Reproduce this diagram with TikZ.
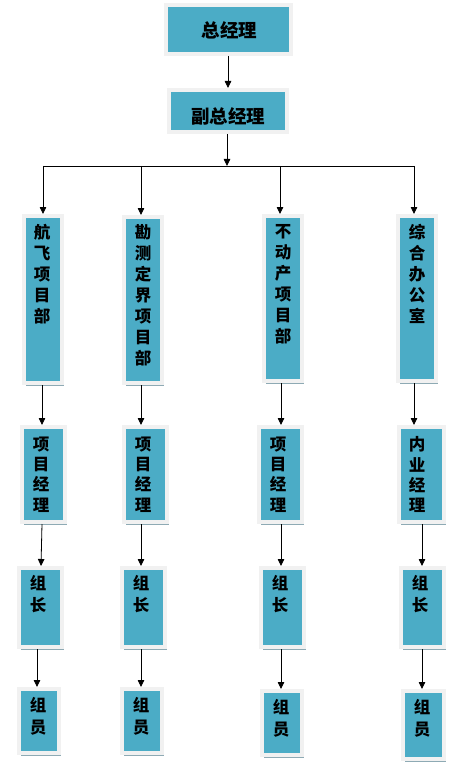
\documentclass[tikz,border=0pt]{standalone}
\usepackage{fontspec}
\newfontfamily\cjk{Noto Sans CJK SC}
\usetikzlibrary{arrows.meta,shadows}
\definecolor{boxteal}{HTML}{4BACC6}
\definecolor{boxrim}{HTML}{F1F1F1}
\definecolor{boxshadow}{HTML}{8EAAB4}
\tikzset{
  bx/.style={fill=boxteal, draw=boxrim, line width=4pt, inner sep=0pt, outer sep=2pt,
    drop shadow={shadow xshift=1.5pt, shadow yshift=-2.5pt, fill=boxshadow, opacity=1}},
  txt/.style={font=\cjk\bfseries\fontsize{16.5}{21}\selectfont, align=center, inner sep=0pt, anchor=north},
  bigtxt/.style={font=\cjk\bfseries\fontsize{18.5}{21}\selectfont, inner sep=0pt, anchor=center},
  arr/.style={draw=black, line width=0.8pt, -{Triangle[length=7pt,width=6.5pt]}},
  ln/.style={draw=black, line width=0.8pt}
}
\newcommand\bx[5]{\node[bx, minimum width=#4pt-4pt, minimum height=#5pt-4pt] (#1) at (#2,#3) {};}
\begin{document}
\begin{tikzpicture}[x=1pt,y=-1pt]
\useasboundingbox (0,0) rectangle (462,770);
% top
\bx{top}{228.5}{29.5}{129}{53}
\bx{vp}{228}{111}{122}{46}
\node[bigtxt] (ttop) at (229.5,30.5) {总经理};
\node[bigtxt] (tvp) at (228,116) {副总经理};
% level 2
\bx{la}{43}{299.5}{42}{171}
\bx{lb}{143}{300}{42}{170}
\bx{lc}{283}{298.5}{42}{169}
\bx{ld}{417}{298.5}{42}{169}
% level 3
\bx{ma}{43.5}{474.5}{47}{99}
\bx{mb}{145.5}{474.5}{47}{99}
\bx{mc}{280.5}{474.5}{47}{99}
\bx{md}{421.5}{474.5}{49}{99}
% level 4
\bx{na}{40.5}{607.5}{47}{83}
\bx{nb}{143.5}{607.5}{47}{83}
\bx{nc}{282.5}{607.5}{47}{83}
\bx{nd}{422.5}{607.5}{47}{83}
% level 5
\bx{oa}{39}{721}{44}{68}
\bx{ob}{142}{721}{44}{68}
\bx{oc}{282}{723}{44}{68}
\bx{od}{423.5}{725}{45}{72}
% texts
\node[txt] (tla) at (42,224.5) {航\\飞\\项\\目\\部};
\node[txt] (tlb) at (143,224.5) {勘\\测\\定\\界\\项\\目\\部};
\node[txt] (tlc) at (283,224.5) {不\\动\\产\\项\\目\\部};
\node[txt] (tld) at (417,224.5) {综\\合\\办\\公\\室};
\begin{scope}[txt/.append style={font=\cjk\bfseries\fontsize{16.5}{20.3}\selectfont}]
\node[txt] (tma) at (41,436.5) {项\\目\\经\\理};
\node[txt] (tmb) at (143,436.5) {项\\目\\经\\理};
\node[txt] (tmc) at (278,436.5) {项\\目\\经\\理};
\node[txt] (tmd) at (417,436.5) {内\\业\\经\\理};
\end{scope}
\begin{scope}[txt/.append style={font=\cjk\bfseries\fontsize{16.5}{21.7}\selectfont}]
\node[txt] (tna) at (38,575.5) {组\\长};
\node[txt] (tnb) at (141,575.5) {组\\长};
\node[txt] (tnc) at (280,575.5) {组\\长};
\node[txt] (tnd) at (420,575.5) {组\\长};
\node[txt] (toa) at (38,697.5) {组\\员};
\node[txt] (tob) at (141,697.5) {组\\员};
\node[txt] (toc) at (281,699.5) {组\\员};
\node[txt] (tod) at (422,699.5) {组\\员};
\end{scope}
% connectors
\draw[arr] (top.south -| 228,0) -- (vp.north -| 228,0);
\coordinate (bus) at (227,166);
\coordinate (ba) at (43,166);
\coordinate (bb) at (141,166);
\coordinate (bc) at (280,166);
\coordinate (bd) at (414,166);
\draw[arr] (vp.south -| bus) -- (bus);
\draw[ln] (ba) -- (bd);
\draw[arr] (ba) -- (ba |- la.north);
\draw[arr] (bb) -- (bb |- lb.north);
\draw[arr] (bc) -- (bc |- lc.north);
\draw[arr] (bd) -- (bd |- ld.north);
\draw[arr] (la.south -| 42,0) -- (ma.north -| 42,0);
\draw[arr] (lb.south -| 141,0) -- (mb.north -| 141,0);
\draw[arr] (lc.south -| 281,0) -- (mc.north -| 281,0);
\draw[arr] (ld.south -| 414,0) -- (md.north -| 414,0);
\draw[arr] (ma.south -| 42,0) -- (na.north -| 41,0);
\draw[arr] (mb.south -| 141,0) -- (nb.north -| 141,0);
\draw[arr] (mc.south -| 281,0) -- (nc.north -| 281,0);
\draw[arr] (md.south -| 422,0) -- (nd.north -| 422,0);
\draw[arr] (na.south -| 37,0) -- (oa.north -| 37,0);
\draw[arr] (nb.south -| 141,0) -- (ob.north -| 141,0);
\draw[arr] (nc.south -| 281,0) -- (oc.north -| 281,0);
\draw[arr] (nd.south -| 422,0) -- (od.north -| 422,0);
\end{tikzpicture}
\end{document}
